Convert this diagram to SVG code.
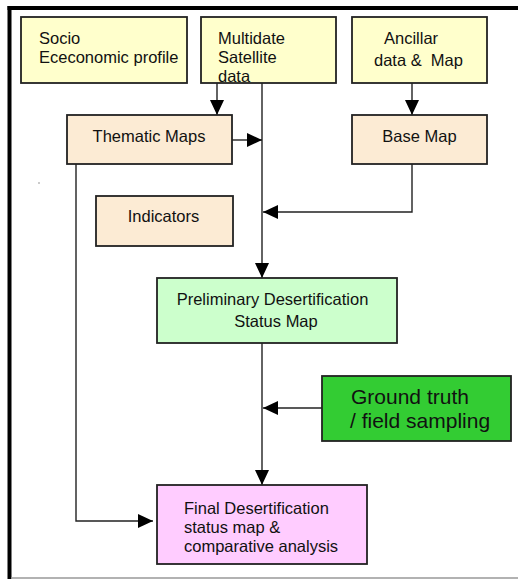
<svg xmlns="http://www.w3.org/2000/svg" width="518" height="579" viewBox="0 0 518 579">
<style>
  .box { stroke: #222; stroke-width: 1.8; }
  .y { fill: #ffffcc; }
  .t { fill: #fcebd4; }
  .g { fill: #ccffcc; }
  .dg { fill: #33cc33; }
  .p { fill: #ffccff; }
  text { font-family: "Liberation Sans", Arial, sans-serif; font-size: 16.5px; fill: #111; }
  .big { font-size: 21px; }
  .c { text-anchor: middle; }
  .conn path { fill: none; stroke: #222; stroke-width: 1.4; marker-end: url(#ah); }
</style>
<defs>
  <marker id="ah" viewBox="0 0 15 14" refX="15" refY="7" markerWidth="15" markerHeight="14" markerUnits="userSpaceOnUse" orient="auto">
    <path d="M0,0 L15,7 L0,14 z" fill="#000"/>
  </marker>
</defs>
<rect width="518" height="579" fill="#fff"/>
<g id="frame">
  <line x1="7.5" y1="8" x2="518" y2="8" stroke="#000" stroke-width="4"/>
  <line x1="9.5" y1="6" x2="9.5" y2="579" stroke="#000" stroke-width="4"/>
  <line x1="11" y1="578" x2="518" y2="578" stroke="#999" stroke-width="1.6"/>
  <rect x="38.5" y="182.5" width="1" height="1" fill="#333"/>
</g>
<g class="conn" id="connectors">
  <path d="M217,83 V115"/>
  <path d="M262,83 V278"/>
  <path d="M232,140 H262"/>
  <path d="M412,83 V115"/>
  <path d="M412,164 V212 H263"/>
  <path d="M262,343 V485"/>
  <path d="M322,408 H263"/>
  <path d="M76,164 V521 H153"/>
</g>
<g id="socio">
  <rect class="box y" x="21" y="17" width="166" height="66"/>
  <text x="39" y="43.5">Socio</text>
  <text x="39" y="62.5">Ececonomic profile</text>
</g>
<g id="multidate">
  <rect class="box y" x="201" y="17" width="135" height="66"/>
  <text x="218" y="43.5">Multidate</text>
  <text x="218" y="62.5">Satellite</text>
  <text x="218" y="81.5">data</text>
</g>
<g id="ancillar">
  <rect class="box y" x="352" y="17" width="135" height="66"/>
  <text x="384" y="43.5">Ancillar</text>
  <text x="374" y="66" xml:space="preserve">data &amp;  Map</text>
</g>
<g id="thematic">
  <rect class="box t" x="67" y="115" width="165" height="49"/>
  <text class="c" x="149" y="141.7">Thematic Maps</text>
</g>
<g id="basemap">
  <rect class="box t" x="352" y="115" width="135" height="49"/>
  <text class="c" x="419.5" y="141.7">Base Map</text>
</g>
<g id="indicators">
  <rect class="box t" x="96" y="196" width="137" height="50"/>
  <text class="c" x="163.5" y="221.7">Indicators</text>
</g>
<g id="preliminary">
  <rect class="box g" x="157" y="278" width="240" height="65"/>
  <text class="c" x="272.5" y="304.5">Preliminary Desertification</text>
  <text class="c" x="276" y="327">Status Map</text>
</g>
<g id="groundtruth">
  <rect class="box dg" x="322" y="376" width="189" height="65"/>
  <text class="big" x="351" y="404">Ground truth</text>
  <text class="big" x="350" y="428.3">/ field sampling</text>
</g>
<g id="final">
  <rect class="box p" x="157" y="485" width="210" height="79"/>
  <text x="184" y="514">Final Desertification</text>
  <text x="184" y="533.3">status map &amp;</text>
  <text x="184" y="552.3">comparative analysis</text>
</g>
</svg>
